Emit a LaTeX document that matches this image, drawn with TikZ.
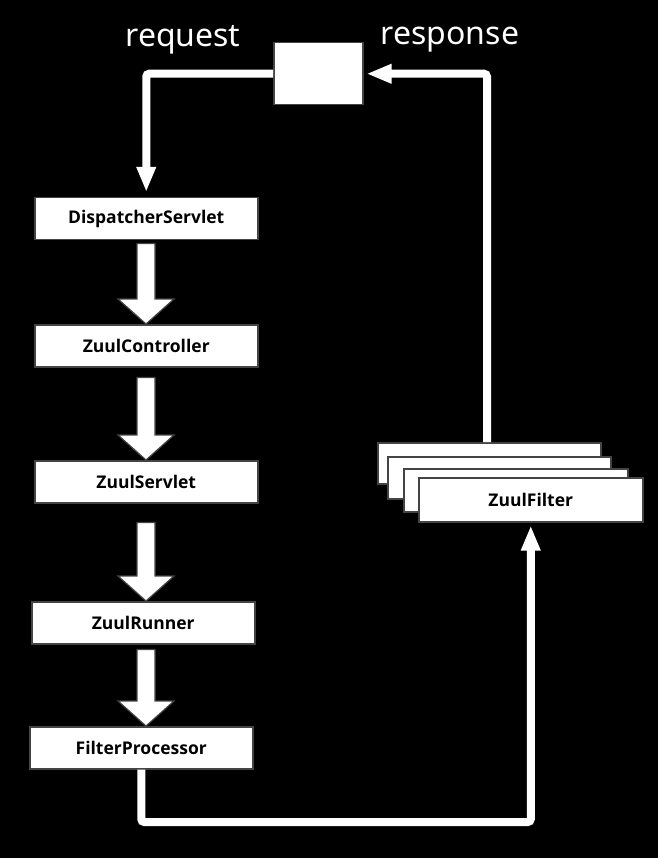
\documentclass[tikz,border=0pt]{standalone}
\usepackage{fontspec}
\setmainfont{Noto Sans}
\newfontfamily\boxfont{Open Sans}
\usetikzlibrary{arrows.meta,calc}
\definecolor{edge}{HTML}{444444}
\tikzset{
  box/.style={draw=edge, line width=1.5pt, fill=white, anchor=north west, inner sep=0pt,
    minimum width=223pt, minimum height=42pt, font=\boxfont\fontsize{17.5pt}{20pt}\selectfont\bfseries, text=black},
  flow/.style={draw=white, line width=8pt, rounded corners=3pt},
  tipw/.style={-{Triangle[width=18pt,length=25pt]}},
  bar/.style={draw=edge, fill=white, line width=1.2pt, line join=miter},
  lbl/.style={text=white, font=\fontsize{32pt}{36pt}\selectfont}
}
\newcommand\barrow[3]{\filldraw[bar] let \p1=(#1.south), \p2=(#2.north) in
  (137pt,\y1-#3pt) -- (137pt,\y2+25pt) -- (118pt,\y2+25pt) -- (146pt,\y2) -- (174pt,\y2+25pt) -- (155pt,\y2+25pt) -- (155pt,\y1-#3pt) -- cycle;}
\begin{document}
\begin{tikzpicture}[x=1pt,y=-1pt]
\fill[black] (0,0) rectangle (658,858);
\useasboundingbox (0,0) rectangle (658,858);
\node[box, minimum width=89pt, minimum height=62pt] (top) at (273,42) {};
\node[lbl] (req) at (183,40) {request};
\node[lbl] (resp) at (450,40) {response};
\node[box] (ds) at (34,197) {DispatcherServlet};
\node[box] (zc) at (34,324) {ZuulController};
\node[box] (zs) at (34,460) {ZuulServlet};
\node[box] (zr) at (31,601) {ZuulRunner};
\node[box] (fp) at (29,726) {FilterProcessor};
\node[box, minimum height=41pt] (zf1) at (377,442) {};
\node[box, minimum height=42pt] (zf2) at (387,456) {};
\node[box, minimum width=224pt, minimum height=43pt] (zf3) at (403,468) {};
\node[box, minimum width=224pt, minimum height=44pt] (zf) at (418,477) {ZuulFilter};
\barrow{ds}{zc}{3}
\barrow{zc}{zs}{10}
\barrow{zs}{zr}{19}
\barrow{zr}{fp}{5}
\coordinate (upr) at ($(zf1.north west)+(110,0)$);
\coordinate (bot) at (0,822);
\draw[flow, tipw, shorten >=5pt] (top.west) -| (ds.north);
\draw[flow, tipw, shorten >=3pt] (upr) |- (top.east);
\draw[flow, tipw, shorten >=3pt] (fp.south) -- (fp.south |- bot) -| (zf.south);
\end{tikzpicture}
\end{document}
